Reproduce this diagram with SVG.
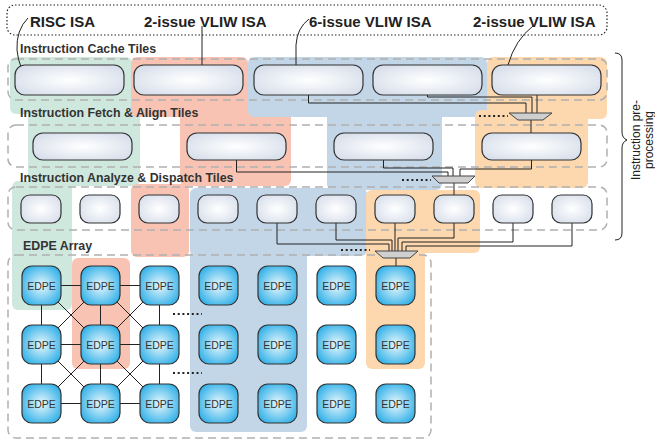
<svg xmlns="http://www.w3.org/2000/svg" width="655" height="440" viewBox="0 0 655 440">
<defs>
<radialGradient id="gTile" cx="50%" cy="50%" r="60%">
<stop offset="0" stop-color="#ffffff"/>
<stop offset="1" stop-color="#d8dfeb"/>
</radialGradient>
<radialGradient id="gEdpe" cx="50%" cy="50%" r="58%">
<stop offset="0" stop-color="#e9f8fd"/>
<stop offset="1" stop-color="#33b1e8"/>
</radialGradient>
<style>
.bgG{fill:#cfe8de}
.bgR{fill:#f8c3b2}
.bgB{fill:#c3d6e8}
.bgO{fill:#fdd8af}
.row{fill:none;stroke:#b0b0b0;stroke-width:1.5;stroke-dasharray:8 5}
.tile{fill:url(#gTile);stroke:#333;stroke-width:1.2}
.edpe{fill:url(#gEdpe);stroke:#333;stroke-width:1.2}
.et{font-family:"Liberation Sans",Arial,sans-serif;font-size:10.5px;fill:#333;text-anchor:middle}
.isa{font-family:"Liberation Sans",Arial,sans-serif;font-size:15px;font-weight:bold;fill:#222}
.sec{font-family:"Liberation Sans",Arial,sans-serif;font-size:12.4px;font-weight:bold;fill:#333}
.side{font-family:"Liberation Sans",Arial,sans-serif;font-size:12px;fill:#222;text-anchor:middle}
.w{fill:none;stroke:#222;stroke-width:1}
.mux{fill:#cfcfcf;stroke:#444;stroke-width:1}
.dots{fill:none;stroke:#222;stroke-width:2;stroke-dasharray:2 2.7}
</style>
</defs>
<rect width="655" height="440" fill="#fff"/>

<g id="backgrounds">
<rect class="bgG" x="10" y="57" width="122" height="57" rx="6"/>
<rect class="bgG" x="28" y="108" width="112" height="78" rx="6"/>
<rect class="bgG" x="12" y="181" width="60" height="129" rx="6"/>
<rect class="bgR" x="180" y="110" width="111" height="76" rx="6"/>
<rect class="bgR" x="131" y="57" width="117" height="60" rx="6"/>
<rect class="bgR" x="131" y="184" width="58" height="73" rx="6"/>
<rect class="bgR" x="72" y="258" width="58" height="111" rx="6"/>
<rect class="bgB" x="248" y="57" width="239" height="60" rx="6"/>
<rect class="bgB" x="327" y="110" width="115" height="80" rx="6"/>
<rect class="bgB" x="190" y="188" width="177" height="68" rx="6"/>
<rect class="bgB" x="190" y="250" width="117" height="182" rx="6"/>
<rect class="bgO" x="487" y="57" width="120" height="62" rx="6"/>
<rect class="bgO" x="475" y="110" width="113" height="78" rx="6"/>
<rect class="bgO" x="366" y="190" width="114" height="63" rx="6"/>
<rect class="bgO" x="366" y="245" width="59" height="124" rx="6"/>
</g>

<g id="rows">
<rect x="7" y="5" width="600" height="30" rx="8" fill="none" stroke="#222" stroke-width="1.2" stroke-dasharray="1.5 2"/>
<rect class="row" x="8" y="59" width="599" height="41" rx="8"/>
<rect class="row" x="8" y="125" width="599" height="42" rx="8"/>
<rect class="row" x="8" y="187" width="599" height="43" rx="8"/>
<rect class="row" x="8" y="255" width="423" height="183" rx="8"/>
</g>

<g id="labels">
<text class="isa" x="30" y="27">RISC ISA</text>
<text class="isa" x="144" y="27">2-issue VLIW ISA</text>
<text class="isa" x="309" y="27">6-issue VLIW ISA</text>
<text class="isa" x="473" y="27">2-issue VLIW ISA</text>
<text class="sec" x="20" y="53">Instruction Cache Tiles</text>
<text class="sec" x="20" y="117">Instruction Fetch &amp; Align Tiles</text>
<text class="sec" x="20" y="182">Instruction Analyze &amp; Dispatch Tiles</text>
<text class="sec" x="23" y="250">EDPE Array</text>
<text class="side" transform="translate(640,140) rotate(-90)">Instruction pre-</text>
<text class="side" transform="translate(653,140) rotate(-90)">processing</text>
</g>

<g id="connectors">
<path class="w" d="M28,18 Q16,30 17,50 Q18,60 21,67"/>
<path class="w" d="M202,26 L202,65"/>
<path class="w" d="M309,19 Q297,28 296,45 L296,65"/>
<path class="w" d="M533,26 Q515,40 508,65"/>
<path class="w" d="M615,53 Q622,53 622,60 L622,132 Q622,138 627,140 Q622,142 622,148 L622,233 Q622,240 615,240"/>
<path class="w" d="M308.5,95 V103 H526 V113"/>
<path class="w" d="M427.5,95 V97 H532 V113"/>
<path class="w" d="M537,95 V113"/>
<path class="w" d="M531,120 V133"/>
<path class="w" d="M236.5,160 V172 H448 V176"/>
<path class="w" d="M383.5,160 V168 H453 V176"/>
<path class="w" d="M531.5,160 V169 H460 V176"/>
<path class="w" d="M454,183 V195"/>
<path class="w" d="M277,223 V244 H389 V251"/>
<path class="w" d="M336,223 V240 H392 V251"/>
<path class="w" d="M395,223 V251"/>
<path class="w" d="M454,223 V238 H398 V251"/>
<path class="w" d="M513,223 V242 H402 V251"/>
<path class="w" d="M572,223 V246 H406 V251"/>
<path class="w" d="M396,258 V266"/>
<path class="w" d="M41.5,285.5 H159.5 M41.5,344.5 H159.5 M41.5,403.5 H159.5 M41.5,285.5 V403.5 M100.5,285.5 V403.5 M159.5,285.5 V403.5 M41.5,285.5 L159.5,403.5 M41.5,344.5 L100.5,403.5 M100.5,285.5 L159.5,344.5 M159.5,285.5 L41.5,403.5 M100.5,285.5 L41.5,344.5 M159.5,344.5 L100.5,403.5"/>
<polygon class="mux" points="509,113 552,113 543,120 518,120"/>
<polygon class="mux" points="432,176 475,176 468,183 439,183"/>
<polygon class="mux" points="375,251 418,251 410,258 383,258"/>
<path class="dots" d="M479,116 H508 M402,180 H431 M341,250 H370 M173,314 H202 M173,373 H202"/>
</g>

<g id="cache-tiles">
<rect id="ic1" class="tile" x="15" y="65" width="109" height="30" rx="10"/>
<rect id="ic2" class="tile" x="134" y="65" width="109" height="30" rx="10"/>
<rect id="ic3" class="tile" x="254" y="65" width="109" height="30" rx="10"/>
<rect id="ic4" class="tile" x="373" y="65" width="109" height="30" rx="10"/>
<rect id="ic5" class="tile" x="492" y="65" width="109" height="30" rx="10"/>
</g>
<g id="fetch-tiles">
<rect id="fa1" class="tile" x="33" y="133" width="99" height="27" rx="10"/>
<rect id="fa2" class="tile" x="187" y="133" width="99" height="27" rx="10"/>
<rect id="fa3" class="tile" x="334" y="133" width="99" height="27" rx="10"/>
<rect id="fa4" class="tile" x="482" y="133" width="99" height="27" rx="10"/>
</g>
<g id="dispatch-tiles">
<rect id="ad1" class="tile" x="21" y="195" width="40" height="28" rx="9"/>
<rect id="ad2" class="tile" x="80" y="195" width="40" height="28" rx="9"/>
<rect id="ad3" class="tile" x="139" y="195" width="40" height="28" rx="9"/>
<rect id="ad4" class="tile" x="198" y="195" width="40" height="28" rx="9"/>
<rect id="ad5" class="tile" x="257" y="195" width="40" height="28" rx="9"/>
<rect id="ad6" class="tile" x="316" y="195" width="40" height="28" rx="9"/>
<rect id="ad7" class="tile" x="375" y="195" width="40" height="28" rx="9"/>
<rect id="ad8" class="tile" x="434" y="195" width="40" height="28" rx="9"/>
<rect id="ad9" class="tile" x="493" y="195" width="40" height="28" rx="9"/>
<rect id="ad10" class="tile" x="552" y="195" width="40" height="28" rx="9"/>
</g>
<g id="edpe-array">
<g id="e00"><rect class="edpe" x="22" y="266" width="39" height="39" rx="10"/><text class="et" x="41.5" y="289.5">EDPE</text></g>
<g id="e01"><rect class="edpe" x="81" y="266" width="39" height="39" rx="10"/><text class="et" x="100.5" y="289.5">EDPE</text></g>
<g id="e02"><rect class="edpe" x="140" y="266" width="39" height="39" rx="10"/><text class="et" x="159.5" y="289.5">EDPE</text></g>
<g id="e03"><rect class="edpe" x="199" y="266" width="39" height="39" rx="10"/><text class="et" x="218.5" y="289.5">EDPE</text></g>
<g id="e04"><rect class="edpe" x="258" y="266" width="39" height="39" rx="10"/><text class="et" x="277.5" y="289.5">EDPE</text></g>
<g id="e05"><rect class="edpe" x="317" y="266" width="39" height="39" rx="10"/><text class="et" x="336.5" y="289.5">EDPE</text></g>
<g id="e06"><rect class="edpe" x="376" y="266" width="39" height="39" rx="10"/><text class="et" x="395.5" y="289.5">EDPE</text></g>
<g id="e10"><rect class="edpe" x="22" y="325" width="39" height="39" rx="10"/><text class="et" x="41.5" y="348.5">EDPE</text></g>
<g id="e11"><rect class="edpe" x="81" y="325" width="39" height="39" rx="10"/><text class="et" x="100.5" y="348.5">EDPE</text></g>
<g id="e12"><rect class="edpe" x="140" y="325" width="39" height="39" rx="10"/><text class="et" x="159.5" y="348.5">EDPE</text></g>
<g id="e13"><rect class="edpe" x="199" y="325" width="39" height="39" rx="10"/><text class="et" x="218.5" y="348.5">EDPE</text></g>
<g id="e14"><rect class="edpe" x="258" y="325" width="39" height="39" rx="10"/><text class="et" x="277.5" y="348.5">EDPE</text></g>
<g id="e15"><rect class="edpe" x="317" y="325" width="39" height="39" rx="10"/><text class="et" x="336.5" y="348.5">EDPE</text></g>
<g id="e16"><rect class="edpe" x="376" y="325" width="39" height="39" rx="10"/><text class="et" x="395.5" y="348.5">EDPE</text></g>
<g id="e20"><rect class="edpe" x="22" y="384" width="39" height="39" rx="10"/><text class="et" x="41.5" y="407.5">EDPE</text></g>
<g id="e21"><rect class="edpe" x="81" y="384" width="39" height="39" rx="10"/><text class="et" x="100.5" y="407.5">EDPE</text></g>
<g id="e22"><rect class="edpe" x="140" y="384" width="39" height="39" rx="10"/><text class="et" x="159.5" y="407.5">EDPE</text></g>
<g id="e23"><rect class="edpe" x="199" y="384" width="39" height="39" rx="10"/><text class="et" x="218.5" y="407.5">EDPE</text></g>
<g id="e24"><rect class="edpe" x="258" y="384" width="39" height="39" rx="10"/><text class="et" x="277.5" y="407.5">EDPE</text></g>
<g id="e25"><rect class="edpe" x="317" y="384" width="39" height="39" rx="10"/><text class="et" x="336.5" y="407.5">EDPE</text></g>
<g id="e26"><rect class="edpe" x="376" y="384" width="39" height="39" rx="10"/><text class="et" x="395.5" y="407.5">EDPE</text></g>
</g>
</svg>
